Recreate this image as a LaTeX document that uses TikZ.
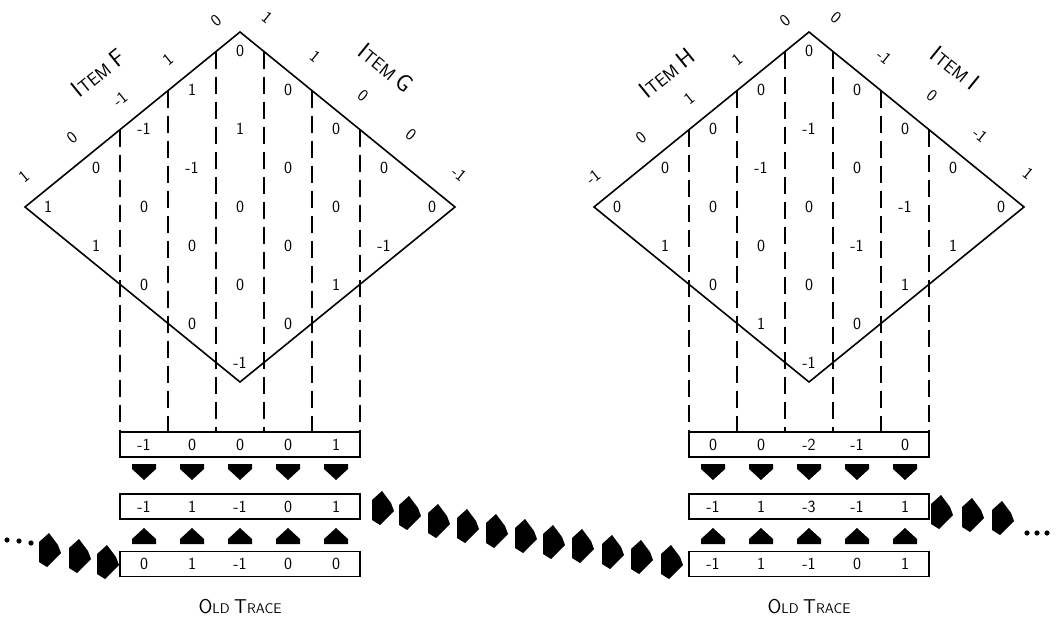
\documentclass[tikz,border=0pt]{standalone}
\usepackage{fontspec}
\newcommand\numfont{\sffamily\fontsize{17}{17}\selectfont}
\newcommand\bigsc{\sffamily\fontsize{24}{24}\selectfont}
\newcommand\smsc{\sffamily\fontsize{18}{18}\selectfont}
\newcommand\ttbig{\sffamily\fontsize{20}{20}\selectfont}
\newcommand\ttsm{\sffamily\fontsize{14}{14}\selectfont}
\tikzset{
  outline/.style={line width=1.6pt, line join=miter},
  cut/.style={line width=1.1pt, dash pattern=on 17pt off 8pt},
  num/.style={font=\numfont, inner sep=0pt, anchor=center},
  rowbox/.style={draw, line width=1.4pt, minimum width=240pt, minimum height=25pt, inner sep=0pt},
  darrow/.pic={\fill (-12,-8) -- (12,-8) -- (12,-3) -- (0,8) -- (-12,-3) -- cycle;},
  uarrow/.pic={\fill (-12,8) -- (12,8) -- (12,3) -- (0,-8) -- (-12,3) -- cycle;},
  carrow/.pic={\fill (-1,-17) -- (8,-5) -- (11,3) -- (-3,17) -- (-11,12) -- (-11,-8) -- cycle;},
}
% #1 prefix, #2 shift, #3 cells by column, #4 upper-left labels, #5 upper-right labels,
% #6 left item letter, #7 right item letter, #8 box rows (row1/row2/row3)
\newcommand\traceblock[8]{%
\begin{scope}[shift={#2}]
  \coordinate (#1-t) at (0,-175);
  \coordinate (#1-r) at (215,0);
  \coordinate (#1-b) at (0,175);
  \coordinate (#1-l) at (-215,0);
  \draw[outline] (#1-t) -- (#1-r) -- (#1-b) -- (#1-l) -- cycle;
  \foreach \vals [count=\c from 0] in {#3} {
    \pgfmathtruncatemacro\nn{min(\c+1,9-\c)}
    \foreach \val [count=\k from 0] in \vals {
      \node[num] (#1-c\c-\k) at ({(\c-4)*48},{(2*\k-\nn+1)*39}) {\val};
    }
  }
  \foreach \val [count=\c from 0] in {#4} {
    \node[num, rotate=39] (#1-ul\c) at ({(\c-4)*48-24},{-\c*39-30}) {\val};
  }
  \foreach \val [count=\i from 0] in {#5} {
    \pgfmathtruncatemacro\cc{\i+4}
    \node[num, rotate=-39] (#1-ur\i) at ({(\cc-4)*48+27},{(\cc-8)*39-33}) {\val};
  }
  \node[rotate=39, inner sep=0pt] (#1-itemL) at (-142,-134) {\bigsc I\smsc TEM \bigsc #6};
  \node[rotate=-39, inner sep=0pt] (#1-itemR) at (146,-139) {\bigsc I\smsc TEM \bigsc #7};
  \node[rowbox] (#1-row1) at (0,237.5) {};
  \node[rowbox] (#1-row2) at (0,299.5) {};
  \node[rowbox] (#1-row3) at (0,357) {};
  \foreach \i in {-120,-72,-24,24,72,120} {
    \pgfmathsetmacro\ey{-175*(1-abs(\i)/215)}
    \coordinate (#1-e\i) at (\i,\ey);
    \draw[cut] (#1-e\i) -- (#1-e\i |- #1-row1.north);
  }
  \foreach \a/\b/\d [count=\c from 2] in {#8} {
    \node[num] (#1-a\c) at ({(\c-4)*48},237.5) {\a};
    \node[num] (#1-m\c) at ({(\c-4)*48},299.5) {\b};
    \node[num] (#1-o\c) at ({(\c-4)*48},357) {\d};
    \pic at ({(\c-4)*48},265) {darrow};
    \pic at ({(\c-4)*48},329) {uarrow};
  }
  \node[inner sep=0pt] (#1-old) at (0,400) {\ttbig O\ttsm LD \ttbig T\ttsm RACE};
\end{scope}}
\begin{document}
\begin{tikzpicture}[x=1pt,y=-1pt]
  \fill[white] (0,0) rectangle (1056,617);
  \useasboundingbox (0,0) rectangle (1056,617);
  \traceblock{L}{(240,207)}%
    {{1},{0,1},{-1,0,0},{1,-1,0,0},{0,1,0,0,-1},{0,0,0,0},{0,0,1},{0,-1},{0}}%
    {1,0,-1,1,0}{1,1,0,0,-1}{F}{G}%
    {-1/-1/0, 0/1/1, 0/-1/-1, 0/0/0, 1/1/0}
  \traceblock{R}{(809,207)}%
    {{0},{0,1},{0,0,0},{0,-1,0,1},{0,-1,0,0,-1},{0,0,-1,0},{0,-1,1},{0,1},{0}}%
    {-1,0,1,1,0}{0,-1,0,-1,1}{H}{I}%
    {0/-1/-1, 0/1/1, -2/-3/-1, -1/-1/0, 0/1/1}
  % chain of arrows
  \foreach \x/\y in {50/550, 80/556, 108/562,
      383/508, 410/513, 439/521, 468/526, 497/531, 526/536, 554/542, 583/546, 613/552, 642/557, 672/562,
      942/512, 973/515, 1003/518}
    \pic at (\x,\y) {carrow};
  \foreach \x/\y in {7/540, 19/541, 31/543, 1027/533, 1037/533, 1047/533}
    \fill (\x,\y) circle (2.6);
\end{tikzpicture}
\end{document}
